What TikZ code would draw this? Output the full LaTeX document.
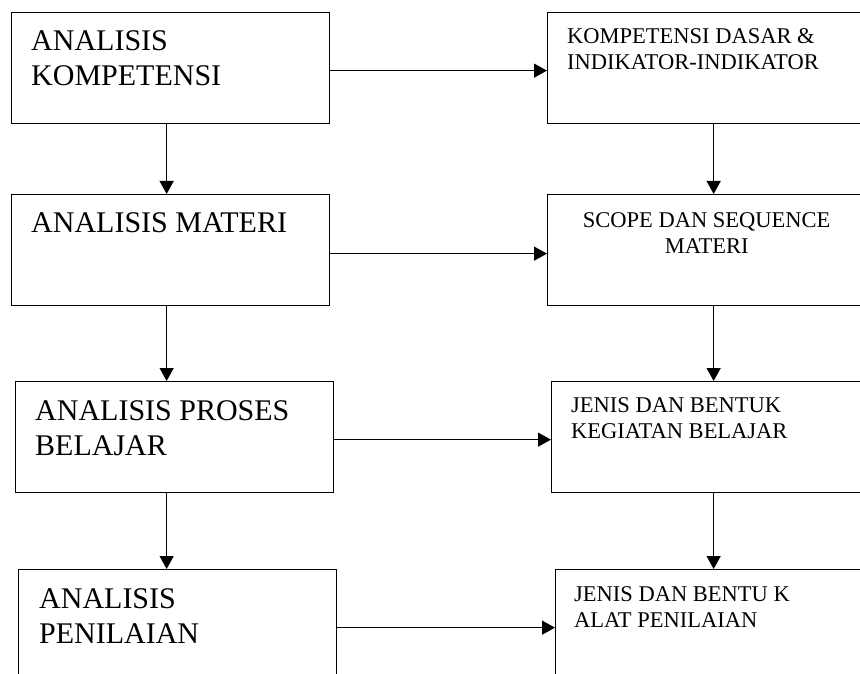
\documentclass[tikz,border=0pt]{standalone}
\usepackage{fontspec}
\setmainfont{Liberation Serif}
\usetikzlibrary{arrows.meta}
\tikzstyle{box}=[rectangle, draw, line width=1.3pt, anchor=north west, minimum width=318pt, minimum height=111pt, inner sep=0pt]
\tikzstyle{bigtext}=[anchor=north west, inner sep=0pt, align=left, font=\fontsize{30}{35}\selectfont]
\tikzstyle{smalltext}=[anchor=north west, inner sep=0pt, align=left, font=\fontsize{22.5}{26}\selectfont]
\tikzstyle{link}=[line width=1.3pt, -{Triangle[length=13pt, width=14pt]}]
\begin{document}
\begin{tikzpicture}[x=1pt, y=-1pt]
                    \path[use as bounding box, clip] (0,0) rectangle (860,674);
                    \fill[white] (0,0) rectangle (860,674);
                    % left column
                    \node[box] (ak) at (11, 12) {};
                    \node[box] (am) at (11, 194) {};
                    \node[box] (ap) at (15, 381) {};
                    \node[box] (an) at (18, 569) {};
                    \node[bigtext] (akt) at ([shift={(20,18)}]ak.north west) {ANALISIS\\KOMPETENSI};
                    \node[bigtext] (amt) at ([shift={(20,18)}]am.north west) {ANALISIS MATERI};
                    \node[bigtext] (apt) at ([shift={(20,19)}]ap.north west) {ANALISIS PROSES\\BELAJAR};
                    \node[bigtext] (ant) at ([shift={(21,19)}]an.north west) {ANALISIS\\PENILAIAN};
                    % right column
                    \node[box] (kd) at (547, 12) {};
                    \node[box] (ss) at (547, 194) {};
                    \node[box] (kb) at (551, 381) {};
                    \node[box] (alat) at (555, 569) {};
                    \node[smalltext] (kdt) at ([shift={(20,16)}]kd.north west) {KOMPETENSI DASAR \&\\INDIKATOR-INDIKATOR};
                    \node[smalltext, anchor=north, align=center] (sst) at ([yshift=-18pt]ss.north) {SCOPE DAN SEQUENCE\\MATERI};
                    \node[smalltext] (kbt) at ([shift={(20,16)}]kb.north west) {JENIS DAN BENTUK\\KEGIATAN BELAJAR};
                    \node[smalltext] (alatt) at ([shift={(19,17)}]alat.north west) {JENIS DAN BENTU K\\ALAT PENILAIAN};
                    % downward links
                    \draw[link] ([xshift=-4pt]ak.south) -- ([xshift=-4pt]ak.south |- am.north);
                    \draw[link] ([xshift=-4pt]am.south) -- ([xshift=-4pt]am.south |- ap.north);
                    \draw[link] ([xshift=-8pt]ap.south) -- ([xshift=-8pt]ap.south |- an.north);
                    \draw[link] ([xshift=7pt]kd.south) -- ([xshift=7pt]kd.south |- ss.north);
                    \draw[link] ([xshift=7pt]ss.south) -- ([xshift=7pt]ss.south |- kb.north);
                    \draw[link] ([xshift=3pt]kb.south) -- ([xshift=3pt]kb.south |- alat.north);
                    % sideways links
                    \draw[link] ([yshift=-2.5pt]ak.east) -- ([yshift=-2.5pt]ak.east -| kd.west);
                    \draw[link] ([yshift=-3.5pt]am.east) -- ([yshift=-3.5pt]am.east -| ss.west);
                    \draw[link] ([yshift=-2.5pt]ap.east) -- ([yshift=-2.5pt]ap.east -| kb.west);
                    \draw[link] ([yshift=-2.5pt]an.east) -- ([yshift=-2.5pt]an.east -| alat.west);
                \end{tikzpicture}
\end{document}
